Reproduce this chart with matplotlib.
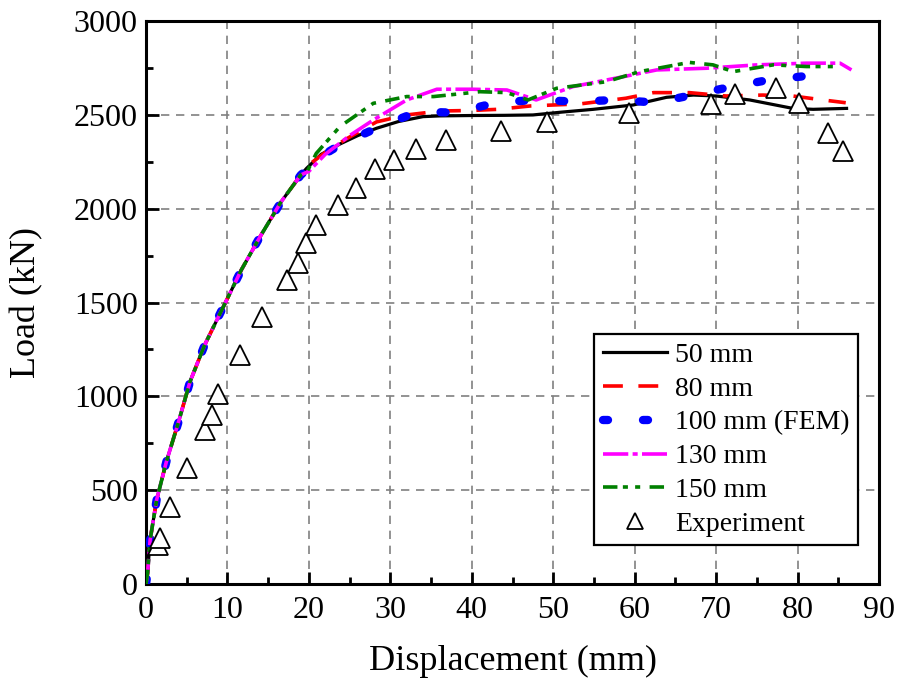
import matplotlib
matplotlib.use("Agg")
import matplotlib.pyplot as plt
from matplotlib.ticker import MultipleLocator

plt.rcParams['font.family'] = ['Liberation Serif', 'DejaVu Serif']

# Shared initial part of all FEM curves
init_x = [0.0, 0.2, 0.5, 1.3, 2.5, 4.0, 5.4, 7.2, 9.5, 11.7, 14.0, 16.6, 19.0]
init_y = [0, 60, 234, 448, 652, 865, 1078, 1274, 1478, 1674, 1851, 2038, 2180]

x50 = init_x + [19.7, 21.5, 23.8, 26.0, 28.3, 31.0, 34.0, 36.1, 40.0, 44.0, 47.5, 51.0, 54.9, 59.8, 63.9, 67.2, 70.0, 74.1, 79.4, 81.9, 86.0]
y50 = init_y + [2215, 2290, 2345, 2390, 2429, 2465, 2491, 2495, 2497, 2498, 2500, 2515, 2530, 2553, 2594, 2606, 2601, 2580, 2535, 2530, 2535]

x80 = init_x + [20.0, 22.0, 24.5, 28.3, 32.0, 36.1, 40.0, 43.2, 47.2, 53.3, 58.9, 62.3, 66.7, 71.2, 75.7, 79.4, 83.1, 85.9]
y80 = init_y + [2235, 2300, 2370, 2463, 2500, 2521, 2524, 2530, 2548, 2559, 2589, 2619, 2619, 2601, 2606, 2601, 2580, 2565]

x100 = init_x + [19.7, 21.5, 23.8, 28.5, 33.4, 38.0, 43.0, 47.9, 53.0, 57.7, 62.6, 66.5, 71.5, 76.0, 81.1]
y100 = init_y + [2206, 2280, 2340, 2434, 2518, 2512, 2566, 2580, 2571, 2580, 2566, 2601, 2647, 2683, 2708]

x130 = init_x + [20.0, 22.0, 25.0, 27.9, 32.0, 35.7, 40.1, 44.3, 47.9, 52.4, 58.6, 62.7, 68.8, 75.0, 81.1, 85.2, 86.6]
y130 = init_y + [2200, 2290, 2390, 2473, 2580, 2637, 2637, 2633, 2580, 2651, 2704, 2740, 2749, 2767, 2776, 2776, 2740]

x150 = init_x + [19.8, 20.9, 23.8, 27.9, 32.0, 35.3, 41.0, 44.3, 46.9, 50.4, 56.5, 60.6, 66.7, 69.6, 72.1, 77.0, 81.1, 85.2]
y150 = init_y + [2200, 2295, 2438, 2562, 2598, 2598, 2624, 2619, 2580, 2642, 2677, 2731, 2780, 2767, 2731, 2767, 2758, 2758]

exp_x = [1.5, 1.7, 2.9, 5.0, 7.3, 8.1, 8.8, 11.5, 14.2, 17.3, 18.6, 19.6, 20.9, 23.6, 25.8, 28.1, 30.4, 33.1, 36.8, 43.6, 49.2, 59.3, 69.4, 72.3, 77.3, 80.2, 83.7, 85.6]
exp_y = [208, 245, 410, 618, 820, 900, 1013, 1220, 1423, 1620, 1711, 1817, 1913, 2020, 2111, 2212, 2260, 2318, 2366, 2415, 2464, 2512, 2561, 2611, 2641, 2565, 2406, 2310]

labels = ['50 mm', '80 mm', '100 mm (FEM)', '130 mm', '150 mm', 'Experiment']
xticks = list(range(0, 91, 10))
yticks = list(range(0, 3001, 500))

fig = plt.figure(figsize=(8.98, 6.82), dpi=100)
ax = fig.add_axes([0.1626, 0.1437, 0.8164, 0.8253])

ax.grid(True, color='#808080', linestyle=(0, (5, 4)), linewidth=1.2)
ax.set_axisbelow(True)

ax.plot(x50, y50, color='black', lw=2.3, linestyle='-', label=labels[0], zorder=3)
ax.plot(x80, y80, color='red', lw=2.6, linestyle=(0, (5.5, 4.3)), label=labels[1], zorder=3)
ax.plot(x100, y100, color='blue', lw=6.0, linestyle=(0, (0.6, 4.2)), dash_capstyle='round',
        label=labels[2], zorder=3)
ax.plot(x130, y130, color='magenta', lw=2.6, linestyle=(0, (7, 1.2, 1.4, 1.2)), label=labels[3], zorder=3)
ax.plot(x150, y150, color='green', lw=2.6, linestyle=(0, (4, 1.5, 1.4, 2.0, 1.4, 2.6)), label=labels[4], zorder=3)
ax.plot(exp_x, exp_y, linestyle='none', marker='^', markersize=15, markerfacecolor='white',
        markeredgecolor='black', markeredgewidth=1.3, label=labels[5], zorder=4)

ax.set_xlim(0, 90)
ax.set_ylim(0, 3000)
ax.set_xticks(xticks)
ax.set_yticks(yticks)
ax.xaxis.set_minor_locator(MultipleLocator(5))
ax.yaxis.set_minor_locator(MultipleLocator(250))
ax.tick_params(which='major', direction='in', length=9, width=2, labelsize=23)
ax.tick_params(axis='x', which='major', pad=9)
ax.tick_params(axis='y', which='major', pad=6)
ax.tick_params(which='minor', direction='in', length=5, width=2)
for s in ax.spines.values():
    s.set_linewidth(2.2)

ax.set_xlabel('Displacement (mm)', fontsize=26, labelpad=14)
ax.set_ylabel('Load (kN)', fontsize=26, labelpad=22)

leg = ax.legend(loc='lower right', bbox_to_anchor=(0.971, 0.069), fontsize=20,
                frameon=True, fancybox=False, edgecolor='black', framealpha=1,
                handlelength=2.3, handletextpad=0.3, labelspacing=0.3,
                borderpad=0.3, borderaxespad=0, markerscale=0.8)
leg.get_frame().set_linewidth(1.6)

fig.savefig('out.png', dpi=100)
